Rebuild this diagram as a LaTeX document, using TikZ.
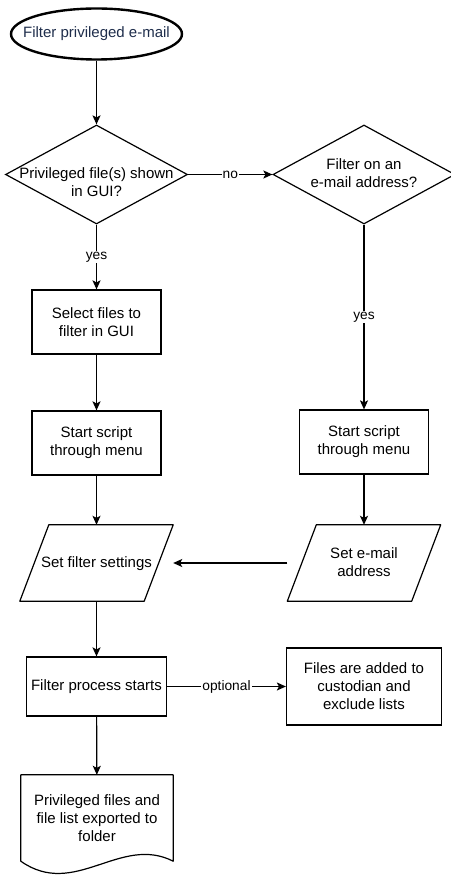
\documentclass[tikz,border=0pt]{standalone}
\usepackage{fontspec}
\setmainfont{Liberation Sans}
\usepackage{tikz}
\usetikzlibrary{shapes.geometric,arrows.meta}

\definecolor{termtext}{RGB}{30,45,75}
\newcommand{\ctext}[2][-4pt]{\makebox[0pt]{\raisebox{#1}[0pt][0pt]{\begin{tabular}{@{}c@{}}#2\end{tabular}}}}

\begin{document}
\begin{tikzpicture}[x=1pt,y=-1pt,
    every node/.style={font=\fontsize{15}{18}\selectfont},
    terminal/.style={draw,ellipse,line width=2.4pt,minimum width=171pt,minimum height=51pt,inner sep=0pt,text=termtext},
    decision/.style={draw,diamond,line width=1.2pt,minimum width=182pt,minimum height=99pt,inner sep=0pt},
    process/.style={draw,rectangle,line width=1.2pt,align=center,minimum width=129pt,minimum height=64pt},
    io/.style={rectangle,minimum width=153pt,minimum height=76pt,inner sep=0pt},
    outline/.style={line width=1.2pt,line join=round},
    flow/.style={line width=1.2pt,-{Stealth[length=9pt,width=8pt,inset=2pt]}},
    lbl/.style={fill=white,inner sep=1pt,font=\fontsize{13.75}{16}\selectfont}]
            \useasboundingbox (0,0) rectangle (450,877);

            \node[terminal] (start) at (96.5,34) {\ctext{Filter privileged e-mail}};
            \node[decision] (q1) at (96.5,174.5) {\ctext[-13pt]{Privileged file(s) shown\\in GUI?}};
            \node[decision] (q2) at (364,174.5) {\ctext{Filter on an\\e-mail address?}};

            \node[process] (sel) at (96.5,322) {Select files to\\filter in GUI};
            \node[process] (run1) at (96.5,443) {Start script\\through menu};
            \node[process] (run2) at (364,442) {Start script\\through menu};

            \node[io] (set1) at (96.5,563) {\ctext{Set filter settings}};
            \node[io] (set2) at (364,563) {\ctext{Set e-mail\\address}};
            \foreach \n in {set1,set2}
                \draw[outline] (\n.south west) -- ([xshift=29pt]\n.north west) -- (\n.north east)
                    -- ([xshift=-29pt]\n.south east) -- cycle;

            \node[process,minimum width=140pt,minimum height=59pt] (proc) at (96.5,686.5) {Filter process starts};
            \node[process,minimum width=155pt,minimum height=77pt] (added) at (364,686.5) {Files are added to\\custodian and\\exclude lists};

            \node[align=center,minimum width=152pt,minimum height=86pt] (docbox) at (97,818) {Privileged files and\\file list exported to\\folder};
            \draw[outline] (docbox.south west) -- (docbox.north west) -- (docbox.north east) -- (docbox.south east)
                .. controls +(-53,-27) and +(54,38) .. (docbox.south west) -- cycle;

            \draw[flow] (start) -- (q1);
            \draw[flow] (q1) -- node[lbl] (nolbl) {no} (q2);
            \draw[flow] (q1) -- node[lbl] (yeslbl) {yes} (sel);
            \draw[flow] (q2) -- node[lbl] (yeslbl2) {yes} (run2);
            \draw[flow] (sel) -- (run1);
            \draw[flow] (run1) -- (set1);
            \draw[flow] (run2) -- (set2);
            \draw[flow] (set2) -- (set1);
            \draw[flow] (set1) -- (proc);
            \draw[flow] (proc) -- node[lbl] (optlbl) {optional} (added);
            \draw[flow] (proc) -- (docbox);
\end{tikzpicture}
\end{document}
